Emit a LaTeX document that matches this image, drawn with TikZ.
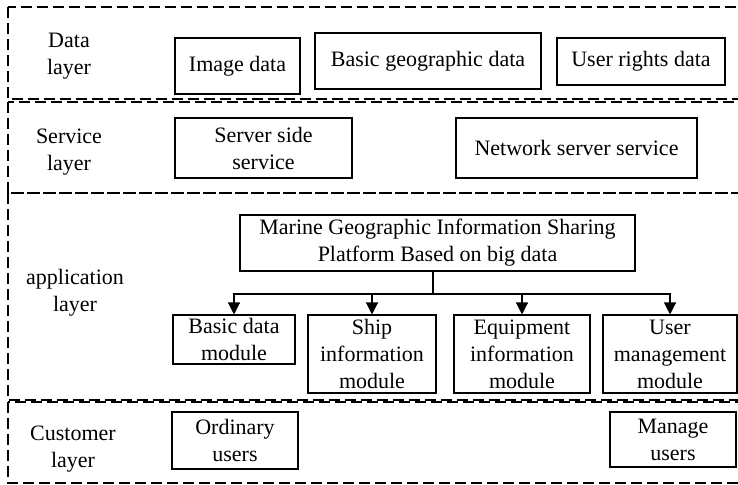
\documentclass[tikz,border=0pt]{standalone}
\usepackage{fontspec}
\setmainfont{Liberation Serif}
\usetikzlibrary{arrows.meta}
\begin{document}
\begin{tikzpicture}[x=1pt,y=-1pt,
  every node/.style={font=\fontsize{22}{27}\selectfont, align=center, inner sep=0pt},
  box/.style={draw, line width=1.1pt},
  layerbox/.style={draw, line width=1.1pt, dash pattern=on 11pt off 5pt},
  arr/.style={line width=1.3pt, -{Triangle[length=12pt,width=12pt]}},
  link/.style={line width=1.3pt}]
\useasboundingbox (0,0) rectangle (738,484);
\clip (0,0) rectangle (738,484);
% layers
\draw[layerbox] (8,7) rectangle (760,99);
\draw[layerbox] (8,102) rectangle (760,193);
\draw[layerbox] (8,193) rectangle (760,400);
\draw[layerbox] (8,402) rectangle (760,483);
% layer labels
\node (l1) at (69,56) {Data\\layer};
\node (l2) at (69,152) {Service\\layer};
\node (l3) at (75,293) {application\\layer};
\node (l4) at (73,449) {Customer\\layer};
% data layer
\node[box, minimum width=125pt, minimum height=56pt] (img) at (237.5,66) {Image data};
\node[box, minimum width=226pt, minimum height=56pt] (geo) at (428,61) {Basic geographic data};
\node[box, minimum width=168pt, minimum height=47pt] (rights) at (641,61.5) {User rights data};
% service layer
\node[box, minimum width=177pt, minimum height=60pt] (srv) at (263.5,148) {Server side\\service};
\node[box, minimum width=241pt, minimum height=60pt] (net) at (576.5,148) {Network server service};
% application layer
\node[box, minimum width=395pt, minimum height=56pt] (plat) at (437.5,243) {Marine Geographic Information Sharing\\Platform Based on big data};
\node[box, minimum width=122pt, minimum height=49pt] (m1) at (234,339.5) {Basic data\\module};
\node[box, minimum width=128pt, minimum height=78pt] (m2) at (372,354) {Ship\\information\\module};
\node[box, minimum width=136pt, minimum height=78pt] (m3) at (522,354) {Equipment\\information\\module};
\node[box, minimum width=134pt, minimum height=78pt] (m4) at (670,354) {User\\management\\module};
\coordinate (bus) at (433,294);
\draw[link] (plat.south -| bus) -- (bus);
\draw[arr] (bus) -| (m1.north);
\draw[arr] (bus) -| (m2.north);
\draw[arr] (bus) -| (m3.north);
\draw[arr] (bus) -| (m4.north);
% customer layer
\node[box, minimum width=126pt, minimum height=57pt] (ord) at (235,440.5) {Ordinary\\users};
\node[box, minimum width=126pt, minimum height=55pt] (man) at (673,439.5) {Manage\\users};
\end{tikzpicture}
\end{document}
